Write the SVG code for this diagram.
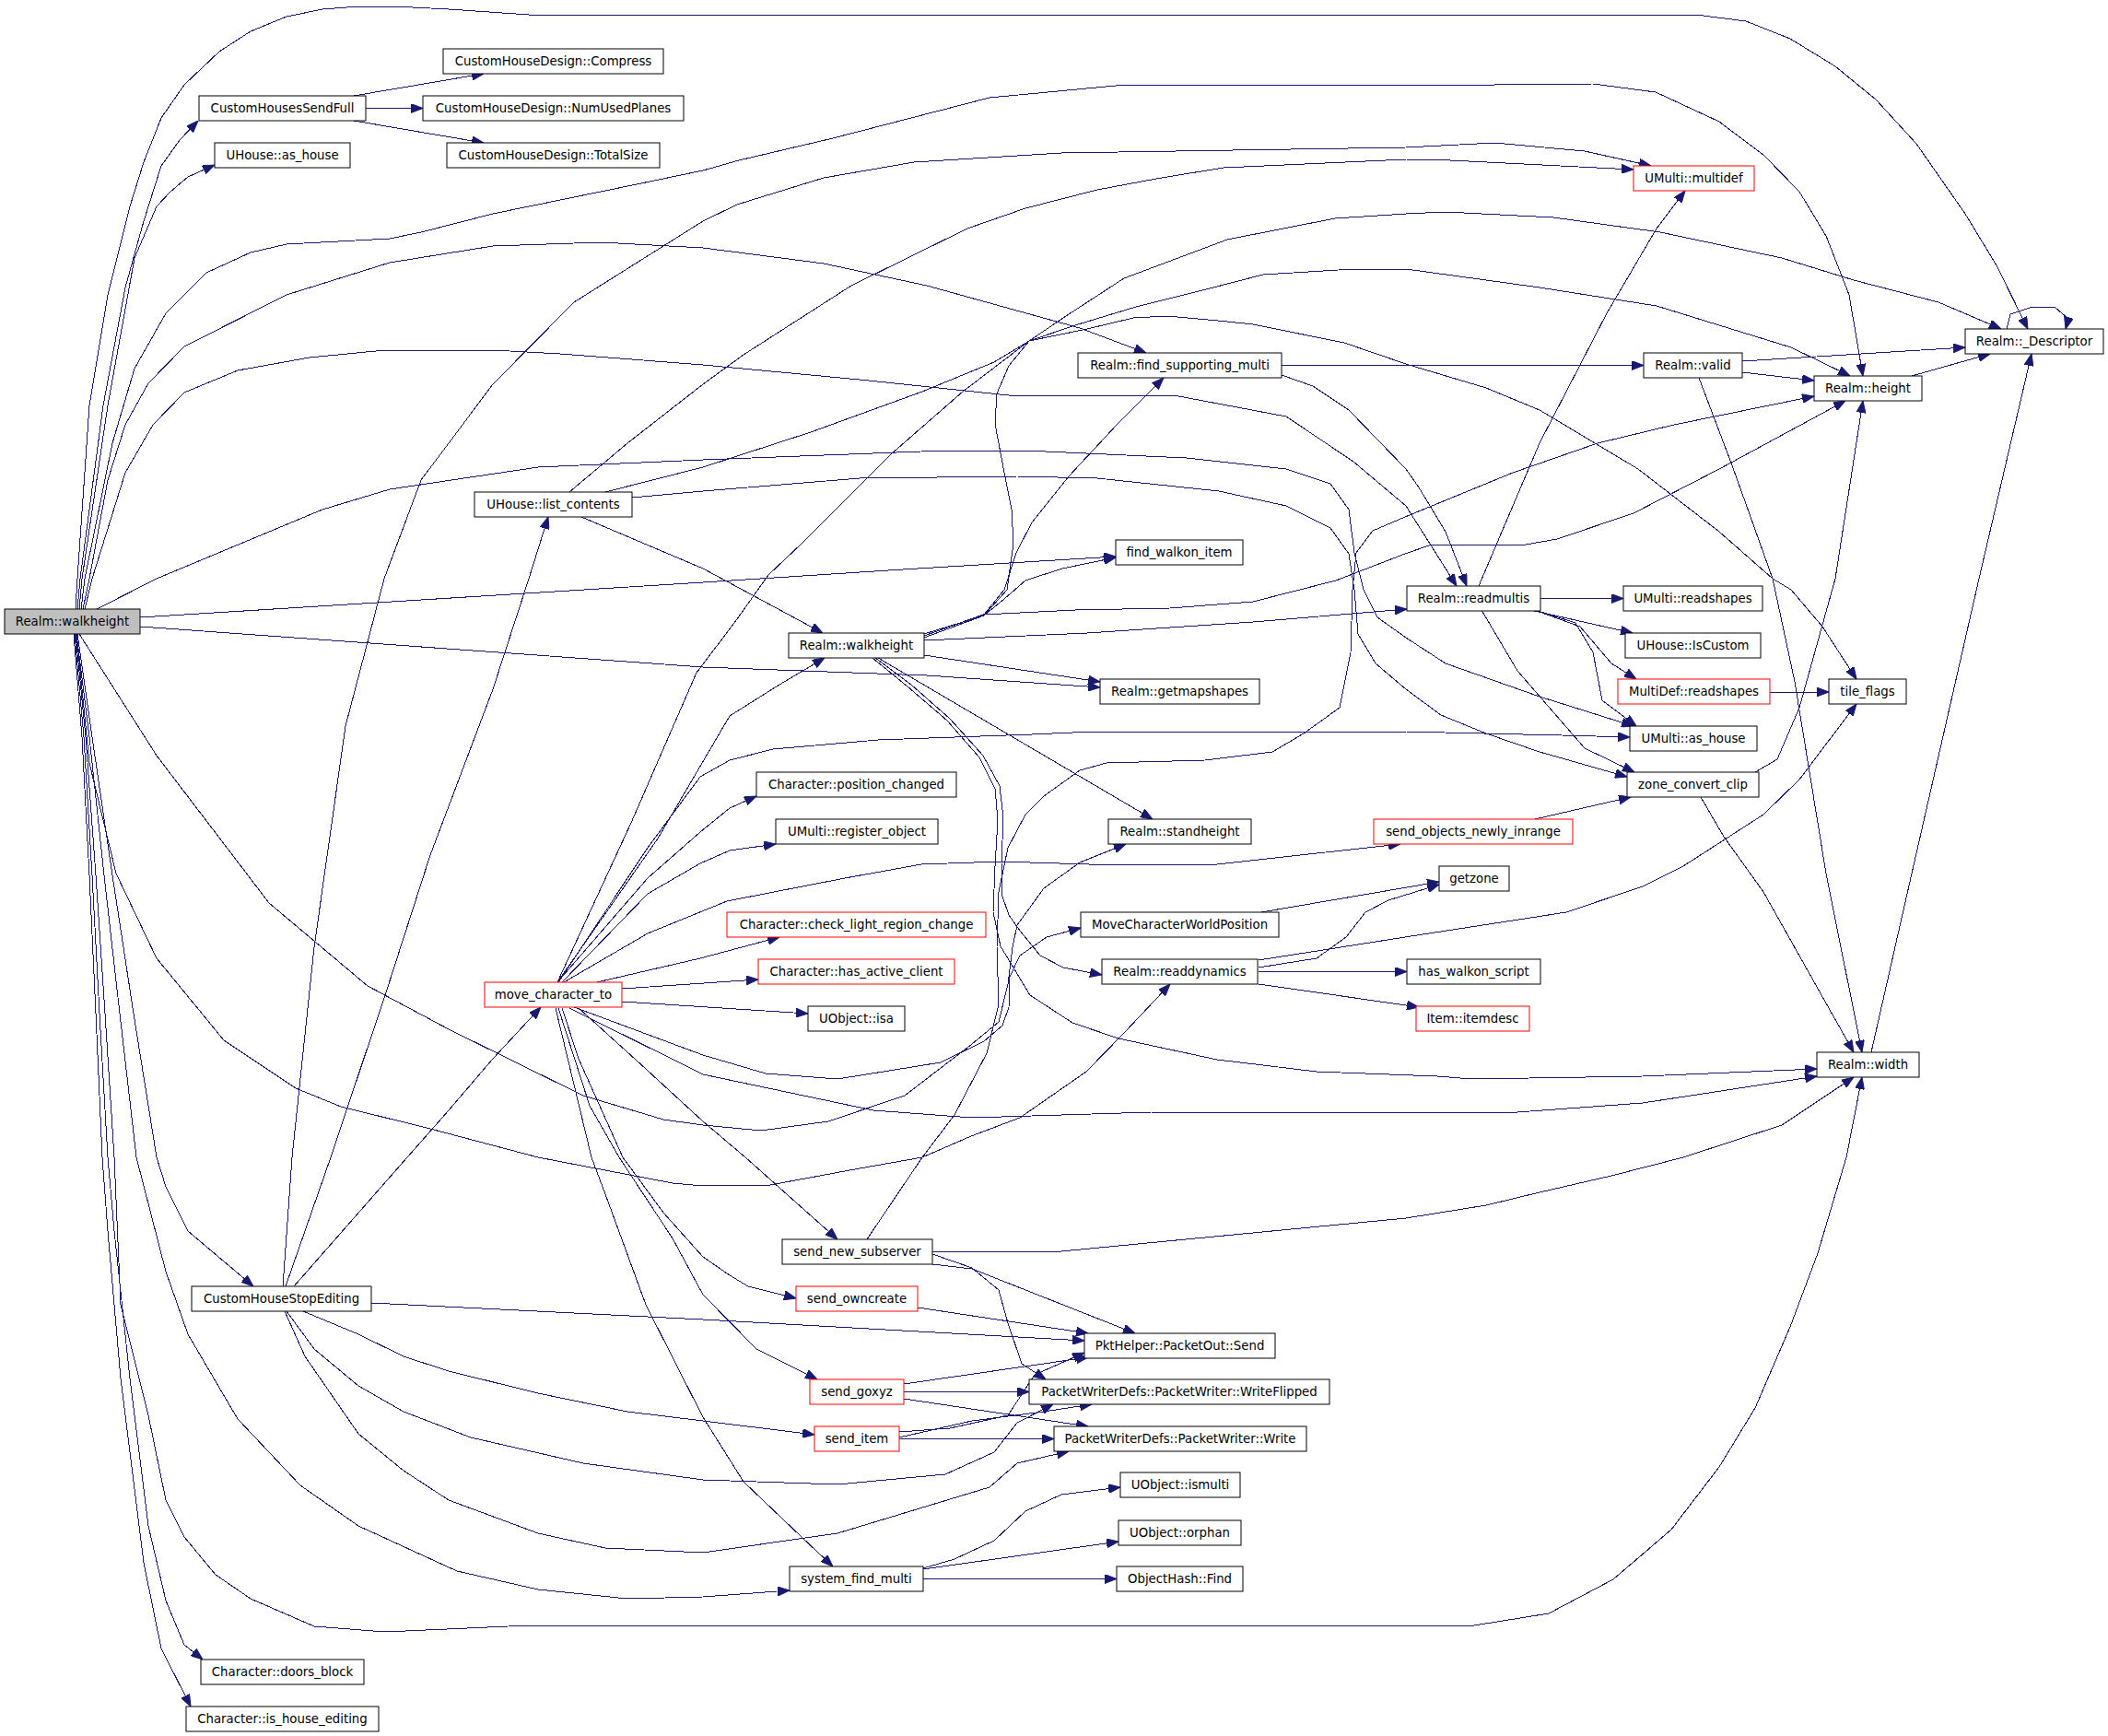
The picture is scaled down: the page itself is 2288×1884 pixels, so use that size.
<svg xmlns="http://www.w3.org/2000/svg" width="2288" height="1884" viewBox="0 0 2288 1884">
<style>
.bg{fill:#fff}
.n rect{fill:#fff;stroke:#000;stroke-width:1}
.r rect{fill:#fff;stroke:#f00;stroke-width:1}
.g rect{fill:#bfbfbf;stroke:#000;stroke-width:1}
text{font-family:"DejaVu Sans","Liberation Sans",sans-serif;font-size:13.3px;fill:#000;text-anchor:middle}
#edges path{fill:none;stroke:#191970;stroke-width:1;stroke-linejoin:round;marker-end:url(#ah);shape-rendering:crispEdges}
</style>
<defs>
<marker id="ah" viewBox="0 0 13 10" refX="13" refY="5" markerWidth="13" markerHeight="10" markerUnits="userSpaceOnUse" orient="auto">
<path d="M0,0 L13,5 L0,10 z" fill="#191970" stroke="#191970"/>
</marker>
</defs>
<rect class="bg" x="0" y="0" width="2288" height="1884"/>
<g id="edges">
<path d="M82,661 L84,628 L97,440 L117,320 L141,224 L156,176 L175,128 L200,92 L238,56 L272,34 L311,18 L350,10 L389,7 L428,7 L487,10 L574,16 L763,16 L1841,16 L1895,23 L1943,42 L1992,72 L2036,108 L2080,156 L2133,232 L2167,288 L2201,357"/>
<path d="M84,661 L87,628 L112,440 L136,312 L156,240 L175,180 L195,152 L215,131"/>
<path d="M86,661 L89,628 L117,440 L146,280 L170,224 L185,208 L204,192 L233,179"/>
<path d="M88,661 L92,628 L122,481 L146,400 L180,340 L224,296 L272,274 L311,265 L423,259 L457,252 L535,232 L691,200 L763,185 L802,174 L904,150 L1074,106 L1211,93 L1526,92 L1622,92 L1729,91 L1797,100 L1866,132 L1914,168 L1953,208 L1982,256 L2007,320 L2022,408"/>
<path d="M90,661 L97,628 L117,521 L136,461 L161,416 L200,376 L311,320 L423,285 L535,267 L652,263 L763,269 L894,286 L1006,310 L1172,356 L1244,383"/>
<path d="M92,661 L100,628 L136,513 L166,461 L200,426 L258,402 L336,388 L418,380 L535,380 L608,384 L763,396 L933,412 L1104,430 L1274,429 L1396,452 L1469,501 L1526,549 L1581,636"/>
<path d="M105,661 L170,628 L350,553 L423,531 L584,507 L763,499 L1026,489 L1113,489 L1288,497 L1396,509 L1444,525 L1464,553 L1470,600 L1480,640 L1495,670 L1526,692 L1569,720 L1671,756 L1773,788"/>
<path d="M686,540 L763,533 L933,519 L1104,517 L1191,519 L1323,533 L1396,549 L1444,573 L1464,601 L1470,640 L1474,688 L1493,720 L1526,748 L1564,776 L1613,796 L1671,816 L1766,843"/>
<path d="M941,1345 L1001,1256 L1036,1210 L1071,1143 L1084,1090 L1082,1028 L1084,968 L1094,920 L1113,884 L1133,864 L1172,836 L1201,828 L1308,825 L1381,816 L1415,796 L1454,768 L1466,708 L1468,640 L1472,600 L1490,576 L1525,561 L1642,513 L1734,481 L1817,461 L1969,430"/>
<path d="M657,534 L763,507 L880,469 L1001,425 L1079,393 L1117,370 L1167,353 L1233,333 L1313,313 L1371,298 L1469,292 L1526,292 L1671,312 L1798,332 L1944,377 L2008,408"/>
<path d="M605,1066 L685,893 L756,730 L797,676 L834,624 L870,590 L967,493 L1045,425 L1117,370 L1157,343 L1220,302 L1332,260 L1449,237 L1526,232 L1569,230 L1686,236 L1802,252 L1934,280 L2012,304 L2104,328 L2172,357"/>
<path d="M1003,688 L1068,668 L1093,640 L1100,590 L1098,553 L1090,513 L1080,460 L1082,427 L1095,397 L1117,370 L1180,357 L1230,345 L1267,343 L1322,348 L1360,352 L1459,372 L1526,395 L1613,421 L1671,445 L1778,509 L1866,577 L1924,628 L1944,640 L1978,680 L2015,737"/>
<path d="M1003,690 L1068,667 L1090,640 L1103,600 L1120,567 L1160,517 L1213,460 L1263,410"/>
<path d="M1003,692 L1068,668 L1090,650 L1113,630 L1153,617 L1211,605"/>
<path d="M1003,695 L1180,687 L1360,675 L1527,661"/>
<path d="M1003,690 L1067,667 L1167,662 L1270,660 L1360,653 L1450,630 L1525,601 L1554,591 L1656,591 L1690,585 L1773,557 L1866,509 L2003,435"/>
<path d="M1003,711 L1194,740"/>
<path d="M953,714 L1251,889"/>
<path d="M950,714 L989,743 L1031,780 L1067,820 L1085,853 L1089,887 L1087,937 L1087,970 L1095,993 L1107,1010 L1129,1037 L1154,1050 L1196,1058"/>
<path d="M947,714 L985,745 L1028,782 L1063,822 L1080,856 L1083,890 L1080,940 L1078,990 L1086,1027 L1118,1080 L1164,1110 L1214,1127 L1321,1150 L1429,1163 L1560,1168 L1598,1171 L1783,1168 L1972,1160"/>
<path d="M631,561 L763,617 L893,687"/>
<path d="M618,534 L681,481 L763,417 L807,385 L924,310 L1050,248 L1113,226 L1191,206 L1255,194 L1328,182 L1526,173 L1574,174 L1773,184"/>
<path d="M307,1396 L317,1256 L341,1028 L375,788 L417,628 L457,521 L535,417 L623,328 L763,240 L800,222 L894,193 L992,176 L1152,166 L1526,160 L1622,155 L1720,164 L1792,180"/>
<path d="M310,1396 L359,1256 L419,1077 L467,928 L535,748 L574,628 L595,561"/>
<path d="M319,1396 L442,1256 L487,1205 L535,1149 L587,1093"/>
<path d="M403,1414 L763,1432 L1177,1455"/>
<path d="M329,1423 L389,1448 L438,1472 L487,1488 L584,1512 L681,1532 L763,1542 L884,1557"/>
<path d="M311,1423 L341,1464 L389,1504 L438,1532 L511,1560 L633,1588 L763,1606 L909,1611 L1026,1600 L1079,1576 L1104,1544 L1143,1524"/>
<path d="M309,1423 L331,1472 L389,1556 L438,1596 L487,1628 L584,1664 L657,1680 L763,1685 L909,1664 L1074,1614 L1104,1588 L1160,1575"/>
<path d="M84,688 L100,800 L122,950 L145,1100 L170,1256 L180,1288 L204,1336 L275,1396"/>
<path d="M152,670 L763,632 L980,618 L1211,604"/>
<path d="M152,680 L763,724 L1006,733 L1194,746"/>
<path d="M81,688 L91,800 L100,950 L108,1100 L117,1256 L124,1336 L141,1496 L161,1656 L180,1737 L200,1785 L220,1801"/>
<path d="M80,688 L89,800 L97,950 L104,1100 L111,1256 L117,1336 L131,1496 L146,1616 L156,1696 L175,1789 L207,1852"/>
<path d="M82,688 L93,800 L104,950 L114,1100 L124,1256 L131,1416 L161,1536 L180,1628 L200,1668 L234,1709 L272,1735 L341,1765 L418,1771 L574,1764 L1600,1764 L1681,1751 L1751,1714 L1814,1660 L1866,1592 L1905,1528 L1943,1440 L1973,1360 L2004,1256 L2021,1169"/>
<path d="M83,688 L97,800 L113,950 L130,1100 L148,1256 L180,1380 L204,1448 L258,1540 L326,1612 L389,1656 L496,1705 L584,1725 L681,1735 L763,1733 L857,1726"/>
<path d="M83,688 L97,828 L126,948 L170,1040 L243,1129 L321,1181 L370,1201 L467,1225 L584,1256 L730,1284 L763,1287 L836,1286 L933,1268 L1001,1256 L1054,1233 L1107,1213 L1179,1163 L1221,1120 L1270,1068"/>
<path d="M86,688 L170,820 L292,980 L399,1070 L487,1117 L633,1189 L720,1215 L763,1221 L826,1227 L899,1217 L982,1189 L1055,1133 L1084,1109 L1094,1068 L1099,1028 L1104,1004 L1133,964 L1172,936 L1222,916"/>
<path d="M605,1066 L714,910 L792,777 L846,743 L895,714"/>
<path d="M606,1066 L703,920 L760,843 L792,825 L839,813 L953,803 L1120,797 L1186,794 L1526,794 L1695,798 L1769,800"/>
<path d="M605,1066 L703,953 L760,903 L792,877 L821,864"/>
<path d="M610,1066 L703,970 L760,937 L792,923 L842,916"/>
<path d="M612,1066 L703,1013 L789,978 L917,953 L1000,938 L1086,935 L1214,939 L1321,938 L1520,916"/>
<path d="M648,1066 L760,1040 L846,1017"/>
<path d="M675,1073 L823,1063"/>
<path d="M675,1087 L877,1100"/>
<path d="M623,1093 L763,1145 L831,1165 L909,1171 L1021,1153 L1068,1130 L1088,1113 L1095,1093 L1096,1060 L1107,1037 L1136,1017 L1173,1007"/>
<path d="M618,1094 L763,1166 L948,1205 L1055,1213 L1250,1207 L1647,1207 L1783,1197 L1972,1168"/>
<path d="M628,1094 L690,1150 L763,1217 L809,1256 L909,1345"/>
<path d="M610,1094 L628,1149 L676,1256 L720,1316 L763,1364 L792,1384 L812,1396 L864,1409"/>
<path d="M606,1094 L640,1200 L672,1256 L730,1344 L763,1405 L821,1464 L887,1497"/>
<path d="M603,1094 L642,1256 L657,1296 L701,1416 L763,1538 L807,1608 L870,1668 L904,1700"/>
<path d="M384,104 L525,80"/>
<path d="M397,117.5 L459,117.5"/>
<path d="M384,131 L525,155"/>
<path d="M1391,396.5 L1784,396.5"/>
<path d="M1391,407 L1425,419 L1464,445 L1526,509 L1540,529 L1569,577 L1592,636"/>
<path d="M1891,392 L2133,377"/>
<path d="M1891,404 L1969,413"/>
<path d="M1844,410 L1880,505 L1924,628 L1948,740 L1982,948 L2021,1142"/>
<path d="M2075,408 L2160,384"/>
<path d="M2178,357 L2182,341 L2206,333 L2231,334 L2245,346 L2242,357"/>
<path d="M2031,1142 L2075,948 L2148,628 L2205,384"/>
<path d="M1605,636 L1671,481 L1744,340 L1798,248 L1829,207"/>
<path d="M1672,649.5 L1762,649.5"/>
<path d="M1661,662 L1772,687"/>
<path d="M1671,664 L1715,680 L1749,720 L1776,737"/>
<path d="M1666,662 L1710,676 L1729,708 L1739,760 L1776,788"/>
<path d="M1608,662 L1647,728 L1720,812 L1774,838"/>
<path d="M1921,751 L1985,751"/>
<path d="M1905,838 L1929,824 L1953,768 L1992,628 L2022,435"/>
<path d="M1846,865 L1871,908 L1914,968 L2012,1142"/>
<path d="M1666,889 L1770,865"/>
<path d="M1366,1050 L1429,1040 L1461,1017 L1482,990 L1507,977 L1562,960"/>
<path d="M1369,990 L1562,957"/>
<path d="M1366,1042 L1525,1017 L1700,990 L1783,962 L1827,940 L1914,884 L1953,846 L2015,764"/>
<path d="M1366,1054.5 L1527,1054.5"/>
<path d="M1366,1068 L1540,1093"/>
<path d="M1012,1372 L1055,1377 L1232,1447"/>
<path d="M1012,1361 L1055,1376 L1084,1400 L1094,1436 L1109,1480 L1135,1497"/>
<path d="M1012,1359 L1152,1358 L1526,1322 L1613,1308 L1671,1294 L1749,1276 L1827,1256 L1934,1221 L2012,1169"/>
<path d="M996,1419 L1181,1447"/>
<path d="M981,1502 L1181,1473"/>
<path d="M981,1510.5 L1117,1510.5"/>
<path d="M981,1518 L1181,1548"/>
<path d="M976,1554 L1031,1550 L1094,1536 L1123,1492 L1177,1468"/>
<path d="M976,1560 L1055,1542 L1133,1532 L1185,1524"/>
<path d="M976,1561.5 L1144,1561.5"/>
<path d="M1002,1702 L1036,1692 L1079,1672 L1113,1640 L1152,1622 L1216,1614"/>
<path d="M1002,1703 L1214,1673"/>
<path d="M1002,1713.5 L1212,1713.5"/>
</g>
<g id="n-w1" class="g"><rect x="5" y="661" width="147" height="27"/><text x="78.5" y="679">Realm::walkheight</text></g>
<g id="n-sendfull" class="n"><rect x="216" y="104" width="181" height="27"/><text x="306.5" y="122">CustomHousesSendFull</text></g>
<g id="n-compress" class="n"><rect x="481" y="53" width="239" height="27"/><text x="600.5" y="71">CustomHouseDesign::Compress</text></g>
<g id="n-numused" class="n"><rect x="459" y="104" width="283" height="27"/><text x="600.5" y="122">CustomHouseDesign::NumUsedPlanes</text></g>
<g id="n-uhouseas" class="n"><rect x="233" y="155" width="147" height="27"/><text x="306.5" y="173">UHouse::as_house</text></g>
<g id="n-totalsize" class="n"><rect x="485" y="155" width="231" height="27"/><text x="600.5" y="173">CustomHouseDesign::TotalSize</text></g>
<g id="n-multidef" class="r"><rect x="1773" y="180" width="131" height="27"/><text x="1838.5" y="198">UMulti::multidef</text></g>
<g id="n-descriptor" class="n"><rect x="2133" y="357" width="150" height="27"/><text x="2208" y="375">Realm::_Descriptor</text></g>
<g id="n-findsup" class="n"><rect x="1170" y="383" width="221" height="27"/><text x="1280.5" y="401">Realm::find_supporting_multi</text></g>
<g id="n-valid" class="n"><rect x="1784" y="383" width="107" height="27"/><text x="1837.5" y="401">Realm::valid</text></g>
<g id="n-height" class="n"><rect x="1969" y="408" width="117" height="27"/><text x="2027.5" y="426">Realm::height</text></g>
<g id="n-listcontents" class="n"><rect x="515" y="534" width="171" height="27"/><text x="600.5" y="552">UHouse::list_contents</text></g>
<g id="n-findwalkon" class="n"><rect x="1211" y="586" width="138" height="27"/><text x="1280" y="604">find_walkon_item</text></g>
<g id="n-readmultis" class="n"><rect x="1527" y="636" width="145" height="27"/><text x="1599.5" y="654">Realm::readmultis</text></g>
<g id="n-ureadshapes" class="n"><rect x="1762" y="636" width="151" height="27"/><text x="1837.5" y="654">UMulti::readshapes</text></g>
<g id="n-w2" class="n"><rect x="856" y="687" width="147" height="27"/><text x="929.5" y="705">Realm::walkheight</text></g>
<g id="n-iscustom" class="n"><rect x="1764" y="687" width="147" height="27"/><text x="1837.5" y="705">UHouse::IsCustom</text></g>
<g id="n-getmapshapes" class="n"><rect x="1194" y="737" width="173" height="27"/><text x="1280.5" y="755">Realm::getmapshapes</text></g>
<g id="n-mdreadshapes" class="r"><rect x="1756" y="737" width="165" height="27"/><text x="1838.5" y="755">MultiDef::readshapes</text></g>
<g id="n-tileflags" class="n"><rect x="1985" y="737" width="84" height="27"/><text x="2027" y="755">tile_flags</text></g>
<g id="n-umultias" class="n"><rect x="1769" y="788" width="138" height="27"/><text x="1838" y="806">UMulti::as_house</text></g>
<g id="n-poschanged" class="n"><rect x="821" y="838" width="217" height="27"/><text x="929.5" y="856">Character::position_changed</text></g>
<g id="n-zoneconv" class="n"><rect x="1766" y="838" width="143" height="27"/><text x="1837.5" y="856">zone_convert_clip</text></g>
<g id="n-registerobj" class="n"><rect x="842" y="889" width="176" height="27"/><text x="930" y="907">UMulti::register_object</text></g>
<g id="n-standheight" class="n"><rect x="1203" y="889" width="155" height="27"/><text x="1280.5" y="907">Realm::standheight</text></g>
<g id="n-sendobjs" class="r"><rect x="1491" y="889" width="216" height="27"/><text x="1599" y="907">send_objects_newly_inrange</text></g>
<g id="n-getzone" class="n"><rect x="1562" y="940" width="76" height="27"/><text x="1600" y="958">getzone</text></g>
<g id="n-checklight" class="r"><rect x="789" y="990" width="281" height="27"/><text x="929.5" y="1008">Character::check_light_region_change</text></g>
<g id="n-mcwp" class="n"><rect x="1173" y="990" width="215" height="27"/><text x="1280.5" y="1008">MoveCharacterWorldPosition</text></g>
<g id="n-hasactive" class="r"><rect x="823" y="1041" width="213" height="27"/><text x="929.5" y="1059">Character::has_active_client</text></g>
<g id="n-readdynamics" class="n"><rect x="1196" y="1041" width="169" height="27"/><text x="1280.5" y="1059">Realm::readdynamics</text></g>
<g id="n-haswalkon" class="n"><rect x="1527" y="1041" width="145" height="27"/><text x="1599.5" y="1059">has_walkon_script</text></g>
<g id="n-movechar" class="r"><rect x="526" y="1066" width="149" height="27"/><text x="600.5" y="1084">move_character_to</text></g>
<g id="n-isa" class="n"><rect x="877" y="1092" width="105" height="27"/><text x="929.5" y="1110">UObject::isa</text></g>
<g id="n-itemdesc" class="r"><rect x="1537" y="1092" width="123" height="27"/><text x="1598.5" y="1110">Item::itemdesc</text></g>
<g id="n-width" class="n"><rect x="1972" y="1142" width="111" height="27"/><text x="2027.5" y="1160">Realm::width</text></g>
<g id="n-sendnewsub" class="n"><rect x="849" y="1345" width="163" height="27"/><text x="930.5" y="1363">send_new_subserver</text></g>
<g id="n-stopediting" class="n"><rect x="208" y="1396" width="195" height="27"/><text x="305.5" y="1414">CustomHouseStopEditing</text></g>
<g id="n-sendowncreate" class="r"><rect x="864" y="1396" width="132" height="27"/><text x="930" y="1414">send_owncreate</text></g>
<g id="n-send" class="n"><rect x="1177" y="1447" width="207" height="27"/><text x="1280.5" y="1465">PktHelper::PacketOut::Send</text></g>
<g id="n-sendgoxyz" class="r"><rect x="879" y="1497" width="102" height="27"/><text x="930" y="1515">send_goxyz</text></g>
<g id="n-writeflipped" class="n"><rect x="1117" y="1497" width="326" height="27"/><text x="1280" y="1515">PacketWriterDefs::PacketWriter::WriteFlipped</text></g>
<g id="n-senditem" class="r"><rect x="884" y="1548" width="92" height="27"/><text x="930" y="1566">send_item</text></g>
<g id="n-write" class="n"><rect x="1144" y="1548" width="274" height="27"/><text x="1281" y="1566">PacketWriterDefs::PacketWriter::Write</text></g>
<g id="n-ismulti" class="n"><rect x="1216" y="1598" width="130" height="27"/><text x="1281" y="1616">UObject::ismulti</text></g>
<g id="n-orphan" class="n"><rect x="1214" y="1650" width="133" height="27"/><text x="1280.5" y="1668">UObject::orphan</text></g>
<g id="n-sysfind" class="n"><rect x="857" y="1700" width="145" height="27"/><text x="929.5" y="1718">system_find_multi</text></g>
<g id="n-find" class="n"><rect x="1212" y="1700" width="137" height="27"/><text x="1280.5" y="1718">ObjectHash::Find</text></g>
<g id="n-doorsblock" class="n"><rect x="218" y="1801" width="177" height="27"/><text x="306.5" y="1819">Character::doors_block</text></g>
<g id="n-ishouse" class="n"><rect x="202" y="1852" width="209" height="27"/><text x="306.5" y="1870">Character::is_house_editing</text></g>
</svg>
